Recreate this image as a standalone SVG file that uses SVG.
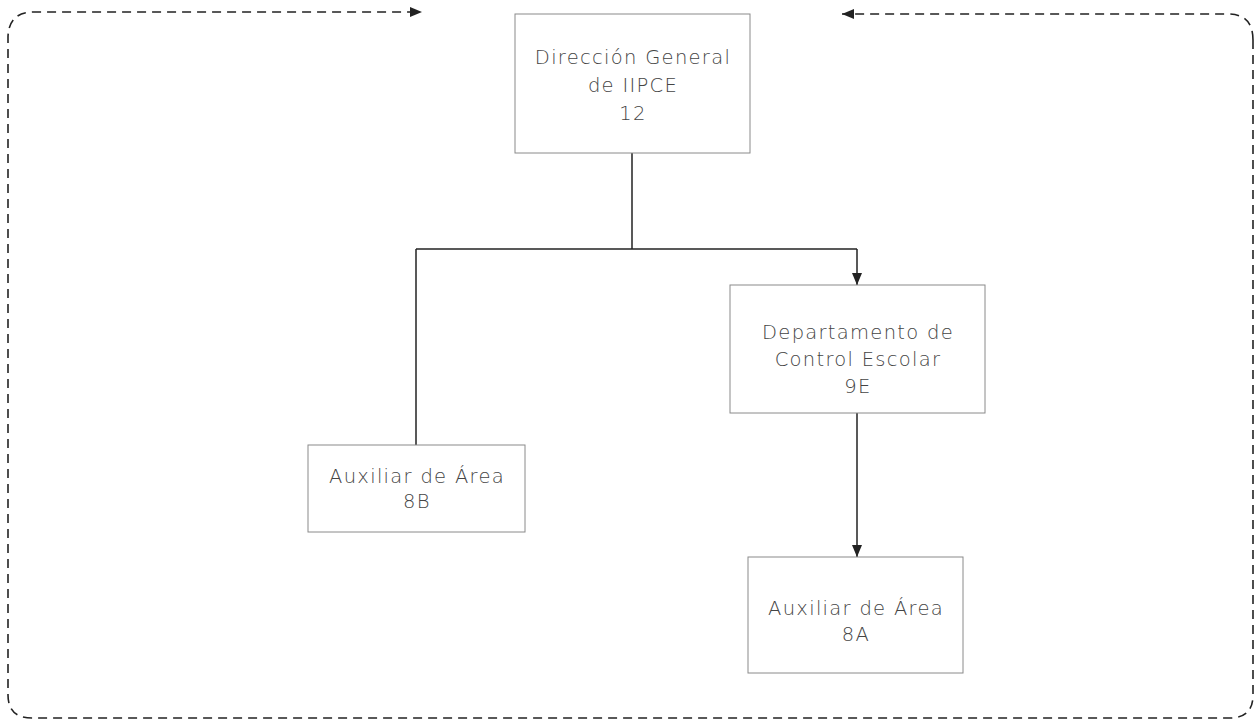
<svg xmlns="http://www.w3.org/2000/svg" width="1257" height="721" viewBox="0 0 1257 721">
<style>
.box{fill:#fff;stroke:#8a8a8a;stroke-width:1}
.t{font-family:"DejaVu Sans","Liberation Sans",sans-serif;font-size:19.5px;fill:#444;text-anchor:middle;font-weight:300;letter-spacing:1.3px}
.c{fill:none;stroke:#222;stroke-width:1.5}
.d{fill:none;stroke:#222;stroke-width:1.6;stroke-dasharray:9 6}
</style>
<defs>
<marker id="ah" viewBox="0 0 12 10" refX="12" refY="5" markerWidth="12" markerHeight="10" markerUnits="userSpaceOnUse" orient="auto">
<path d="M0,0 L12,5 L0,10 z" fill="#222"/>
</marker>
</defs>
<g id="connectors">
<path class="c" d="M632 153 L632 249"/>
<path class="c" d="M416 249 L857 249"/>
<path class="c" d="M416 249 L416 445"/>
<path class="c" d="M857 249 L857 285" marker-end="url(#ah)"/>
<path class="c" d="M857 413 L857 557" marker-end="url(#ah)"/>
<path class="d" d="M1253 40 L1253 695 Q1253 718 1230 718 L32 718 Q8 718 8 695 L8 38 Q8 12 34 12 L422 12" marker-end="url(#ah)"/>
<path class="d" d="M1253 40 Q1253 14 1228 14 L842 14" marker-end="url(#ah)"/>
</g>
<g id="n-direccion">
<rect class="box" x="515" y="14" width="235" height="139"/>
<text class="t" x="633" y="64">Dirección General</text>
<text class="t" x="633" y="92">de IIPCE</text>
<text class="t" x="633" y="120">12</text>
</g>
<g id="n-departamento">
<rect class="box" x="730" y="285" width="255" height="128"/>
<text class="t" x="858" y="339">Departamento de</text>
<text class="t" x="858" y="366">Control Escolar</text>
<text class="t" x="858" y="393">9E</text>
</g>
<g id="n-aux8b">
<rect class="box" x="308" y="445" width="217" height="87"/>
<text class="t" x="417" y="483">Auxiliar de Área</text>
<text class="t" x="417" y="508">8B</text>
</g>
<g id="n-aux8a">
<rect class="box" x="748" y="557" width="215" height="116"/>
<text class="t" x="856" y="615">Auxiliar de Área</text>
<text class="t" x="856" y="641">8A</text>
</g>
</svg>
